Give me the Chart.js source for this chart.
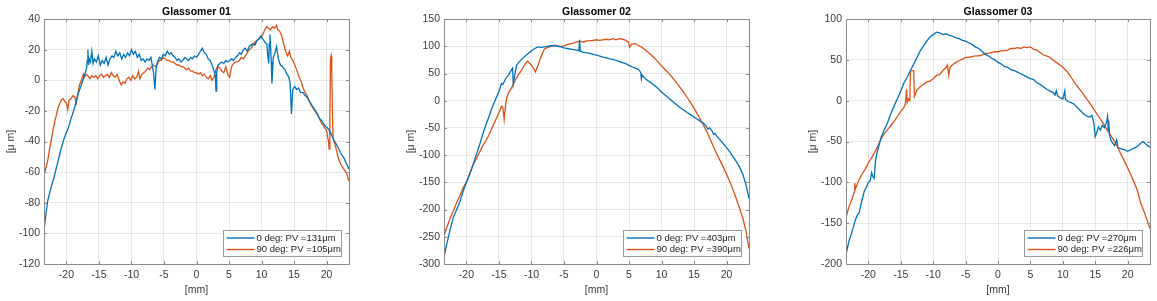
<!DOCTYPE html>
<html>
<head>
<meta charset="utf-8">
<script src="https://cdn.jsdelivr.net/npm/chart.js@4.4.1/dist/chart.umd.min.js"></script>
<style>
body { margin: 0; background: #fff; width: 1157px; height: 301px; overflow: hidden; position: relative; }
.panel { position: absolute; top: 0; height: 301px; }
</style>
</head>
<body>
<div class="panel" style="left:0;width:360px"><canvas id="g1"></canvas></div>
<div class="panel" style="left:400px;width:360px"><canvas id="g2"></canvas></div>
<div class="panel" style="left:802px;width:355px"><canvas id="g3"></canvas></div>
<script>
// tick labels
const xTicks = [-20, -15, -10, -5, 0, 5, 10, 15, 20];
const g1YTicks = [-120, -100, -80, -60, -40, -20, 0, 20, 40];
const g2YTicks = [-300, -250, -200, -150, -100, -50, 0, 50, 100, 150];
const g3YTicks = [-200, -150, -100, -50, 0, 50, 100];

const titles = ['Glassomer 01', 'Glassomer 02', 'Glassomer 03'];
const g1Labels = ['0 deg: PV =131\u03bcm', '90 deg: PV =105\u03bcm'];
const g2Labels = ['0 deg: PV =403\u03bcm', '90 deg: PV =390\u03bcm'];
const g3Labels = ['0 deg: PV =270\u03bcm', '90 deg: PV =226\u03bcm'];

/// Glassomer 01, [mm, um]
const g1Blue = [[-23.5,-100],[-23.2,-89],[-22.9,-79],[-22.6,-74],[-22.3,-69],[-22.0,-65],[-21.6,-58],[-21.3,-53],[-20.9,-46],[-20.5,-40],[-20.1,-35],[-19.7,-31],[-19.3,-25],[-18.9,-20],[-18.5,-14],[-18.2,-9],[-17.8,-4],[-17.4,1],[-17.1,5],[-16.9,8],[-16.8,13],[-16.7,20],[-16.6,10],[-16.5,14],[-16.3,12],[-16.1,19],[-15.9,11],[-15.7,14],[-15.4,12],[-15.1,16],[-14.8,10],[-14.5,13],[-14.2,11],[-13.9,15],[-13.6,10],[-13.3,14],[-13.0,16],[-12.7,15],[-12.4,19],[-12.1,16],[-11.8,18],[-11.5,14],[-11.2,17],[-10.9,15],[-10.6,18],[-10.3,16],[-10.0,20],[-9.7,17],[-9.4,19],[-9.1,15],[-8.8,17],[-8.5,13],[-8.2,14],[-7.9,12],[-7.6,14],[-7.3,13],[-7.0,15],[-6.8,10],[-6.6,5],[-6.4,-6],[-6.2,8],[-6.0,12],[-5.7,15],[-5.4,14],[-5.1,17],[-4.8,16],[-4.5,19],[-4.2,17],[-3.9,18],[-3.6,16],[-3.3,15],[-3.0,13],[-2.7,14],[-2.4,12],[-2.1,13],[-1.8,15],[-1.5,14],[-1.2,13],[-0.9,15],[-0.6,14],[-0.3,16],[0.0,15],[0.3,17],[0.6,19],[0.9,21],[1.2,18],[1.5,17],[1.8,14],[2.1,13],[2.4,10],[2.7,6],[2.9,3],[3.0,-7],[3.1,5],[3.3,10],[3.6,11],[3.9,12],[4.2,11],[4.5,13],[4.8,12],[5.1,13],[5.4,14],[5.7,13],[6.0,15],[6.3,16],[6.6,18],[6.9,17],[7.2,20],[7.5,21],[7.8,19],[8.1,22],[8.4,23],[8.7,24],[9.0,23],[9.3,26],[9.6,27],[9.9,29],[10.2,27],[10.5,25],[10.8,24],[11.0,15],[11.1,11],[11.2,24],[11.3,30],[11.5,12],[11.6,-2],[11.8,15],[12.0,17],[12.3,22],[12.6,14],[12.9,10],[13.2,9],[13.6,7],[13.9,4],[14.2,2],[14.4,-2],[14.6,-22],[14.8,-6],[15.1,-4],[15.4,-6],[15.7,-5],[16.0,-8],[16.4,-8],[16.7,-10],[17.0,-11],[17.4,-14],[17.7,-16],[18.0,-18],[18.3,-20],[18.6,-22],[18.9,-25],[19.2,-26],[19.5,-28],[19.8,-30],[20.1,-31],[20.5,-33],[20.8,-36],[21.1,-39],[21.4,-41],[21.8,-44],[22.1,-47],[22.4,-49],[22.7,-51],[23.0,-54],[23.45,-58]];
const g1Orange = [[-23.5,-62],[-23.2,-58],[-22.9,-53],[-22.6,-45],[-22.3,-38],[-22.0,-31],[-21.8,-27],[-21.5,-22],[-21.3,-18],[-21.0,-15],[-20.8,-13],[-20.5,-12],[-20.2,-14],[-20.0,-15],[-19.8,-19],[-19.6,-13],[-19.3,-12],[-19.0,-10],[-18.7,-11],[-18.5,-15],[-18.3,-10],[-18.0,-3],[-17.7,0],[-17.4,4],[-17.2,2],[-17.0,4],[-16.7,3],[-16.4,1],[-16.1,3],[-15.8,2],[-15.5,3],[-15.2,1],[-14.9,3],[-14.6,4],[-14.3,2],[-14.0,3],[-13.7,4],[-13.4,2],[-13.1,5],[-12.8,3],[-12.5,2],[-12.2,4],[-11.9,0],[-11.6,-3],[-11.3,-1],[-11.0,-2],[-10.7,1],[-10.4,2],[-10.1,0],[-9.8,3],[-9.5,1],[-9.2,2],[-8.9,6],[-8.7,1],[-8.4,4],[-8.1,5],[-7.8,6],[-7.5,8],[-7.2,7],[-6.9,9],[-6.6,10],[-6.3,9],[-6.0,11],[-5.7,13],[-5.4,13],[-5.1,15],[-4.8,14],[-4.5,13],[-4.2,13],[-3.9,12],[-3.6,12],[-3.3,11],[-3.0,10],[-2.7,10],[-2.4,9],[-2.1,9],[-1.8,8],[-1.5,7],[-1.2,8],[-0.9,6],[-0.6,6],[-0.3,5],[0.0,5],[0.3,4],[0.6,5],[0.9,3],[1.2,4],[1.5,2],[1.8,1],[2.1,3],[2.4,0],[2.7,2],[3.0,7],[3.3,9],[3.6,8],[3.9,6],[4.2,5],[4.5,9],[4.8,4],[5.1,2],[5.4,9],[5.7,11],[6.0,12],[6.3,12],[6.6,13],[6.9,15],[7.2,14],[7.5,16],[7.8,18],[8.1,20],[8.4,21],[8.7,23],[9.0,25],[9.3,26],[9.6,27],[9.9,28],[10.2,30],[10.5,33],[10.8,35],[11.1,34],[11.4,33],[11.7,35],[12.0,34],[12.3,36],[12.5,33],[12.8,32],[13.1,29],[13.4,24],[13.7,19],[14.0,16],[14.3,19],[14.5,15],[14.8,13],[15.1,10],[15.4,7],[15.7,3],[16.1,-1],[16.4,-5],[16.7,-8],[17.0,-10],[17.3,-13],[17.6,-16],[17.9,-18],[18.2,-20],[18.5,-22],[18.8,-24],[19.1,-27],[19.4,-29],[19.7,-31],[20.0,-33],[20.3,-40],[20.4,-45],[20.5,-30],[20.6,14],[20.7,16],[20.8,5],[20.9,-20],[21.0,-38],[21.3,-42],[21.6,-47],[21.9,-52],[22.2,-55],[22.5,-57],[22.8,-59],[23.1,-61],[23.45,-66]];

/// Glassomer 02
const g2Blue = [[-23.5,-290],[-23.0,-262],[-22.5,-236],[-22.0,-214],[-21.5,-200],[-21.0,-185],[-20.5,-166],[-20.0,-150],[-19.5,-134],[-19.0,-118],[-18.5,-100],[-18.0,-82],[-17.5,-62],[-17.0,-44],[-16.5,-28],[-16.0,-11],[-15.5,3],[-15.0,17],[-14.6,32],[-14.4,30],[-14.0,40],[-13.5,48],[-13.0,58],[-12.9,60],[-12.8,31],[-12.6,45],[-12.3,65],[-12.0,70],[-11.5,76],[-11.0,82],[-10.5,87],[-10.0,92],[-9.5,96],[-9.0,99],[-8.5,98],[-8.0,99],[-7.5,100],[-7.0,101],[-6.5,101],[-6.0,100],[-5.5,99],[-5.0,97],[-4.5,96],[-4.0,95],[-3.5,94],[-3.0,93],[-2.7,92],[-2.6,112],[-2.5,91],[-2.0,89],[-1.5,88],[-1.0,87],[-0.5,85],[0.0,84],[0.5,82],[1.0,80],[1.5,79],[2.0,77],[2.5,76],[3.0,74],[3.5,72],[4.0,70],[4.5,68],[5.0,65],[5.5,62],[6.0,60],[6.5,57],[6.8,52],[6.9,40],[7.0,47],[7.5,41],[8.0,36],[8.5,32],[9.0,27],[9.5,22],[10.0,16],[10.5,11],[11.0,6],[11.5,1],[12.0,-4],[12.5,-9],[13.0,-14],[13.5,-18],[14.0,-22],[14.5,-26],[15.0,-30],[15.5,-34],[16.0,-38],[16.5,-42],[16.9,-47],[17.1,-52],[17.4,-50],[17.8,-56],[18.0,-62],[18.2,-60],[18.5,-65],[19.0,-72],[19.5,-79],[20.0,-86],[20.5,-94],[21.0,-103],[21.5,-112],[22.0,-122],[22.5,-135],[23.0,-155],[23.45,-180]];
const g2Orange = [[-23.5,-250],[-23.0,-232],[-22.5,-216],[-22.0,-202],[-21.5,-187],[-21.0,-174],[-20.5,-160],[-20.0,-149],[-19.5,-135],[-19.0,-118],[-18.5,-107],[-18.0,-95],[-17.5,-83],[-17.0,-73],[-16.5,-62],[-16.0,-48],[-15.5,-35],[-15.0,-22],[-14.6,-10],[-14.4,-12],[-14.2,-34],[-14.0,-10],[-13.8,6],[-13.5,15],[-13.0,25],[-12.5,38],[-12.0,48],[-11.5,56],[-11.0,67],[-10.6,73],[-10.2,68],[-9.8,62],[-9.4,53],[-9.0,65],[-8.5,82],[-8.0,95],[-7.5,98],[-7.0,100],[-6.5,102],[-6.0,101],[-5.5,100],[-5.0,101],[-4.5,103],[-4.0,105],[-3.5,106],[-3.0,108],[-2.5,109],[-2.0,108],[-1.5,110],[-1.0,110],[-0.5,111],[0.0,112],[0.5,111],[1.0,112],[1.5,113],[2.0,112],[2.5,114],[3.0,112],[3.5,114],[4.0,113],[4.5,111],[4.9,108],[5.1,98],[5.4,104],[6.0,105],[6.5,101],[7.0,98],[7.5,93],[8.0,88],[8.5,83],[9.0,77],[9.5,71],[10.0,64],[10.5,58],[11.0,52],[11.5,45],[12.0,38],[12.5,30],[13.0,22],[13.5,14],[14.0,5],[14.5,-4],[15.0,-14],[15.5,-24],[16.0,-35],[16.5,-46],[17.0,-58],[17.5,-71],[18.0,-85],[18.5,-98],[19.0,-110],[19.5,-122],[20.0,-135],[20.5,-149],[21.0,-164],[21.5,-180],[22.0,-197],[22.5,-216],[22.8,-230],[23.0,-240],[23.45,-272]];

/// Glassomer 03
const g3Blue = [[-23.4,-187],[-23.0,-172],[-22.5,-160],[-22.0,-146],[-21.7,-140],[-21.4,-137],[-21.0,-122],[-20.6,-110],[-20.3,-106],[-20.0,-100],[-19.7,-98],[-19.5,-88],[-19.3,-93],[-19.1,-95],[-18.9,-73],[-18.6,-62],[-18.3,-53],[-18.0,-44],[-17.5,-35],[-17.0,-26],[-16.5,-15],[-16.0,-6],[-15.5,3],[-15.0,12],[-14.5,22],[-14.0,29],[-13.5,37],[-13.0,45],[-12.5,53],[-12.0,61],[-11.5,67],[-11.0,73],[-10.5,78],[-10.0,81],[-9.5,84],[-9.0,83],[-8.5,81],[-8.0,82],[-7.5,80],[-7.0,79],[-6.5,77],[-6.0,76],[-5.5,74],[-5.0,73],[-4.5,71],[-4.0,69],[-3.5,66],[-3.0,64],[-2.5,61],[-2.0,57],[-1.5,55],[-1.0,52],[-0.5,50],[0.0,47],[0.5,45],[1.0,42],[1.5,41],[2.0,38],[2.5,37],[3.0,35],[3.5,33],[4.0,31],[4.5,29],[5.0,27],[5.5,26],[6.0,22],[6.5,20],[7.0,17],[7.5,14],[8.0,12],[8.5,10],[8.8,7],[9.0,12],[9.2,6],[9.5,4],[10.0,2],[10.3,12],[10.4,2],[10.8,-1],[11.2,-2],[11.7,-4],[12.2,-8],[12.7,-12],[13.2,-16],[13.7,-19],[14.2,-20],[14.5,-18],[14.8,-28],[15.0,-44],[15.2,-40],[15.5,-32],[15.8,-36],[16.1,-30],[16.4,-33],[16.7,-28],[16.9,-19],[17.1,-38],[17.4,-48],[17.7,-52],[18.0,-55],[18.3,-48],[18.5,-57],[19.0,-59],[19.5,-60],[20.0,-62],[20.5,-60],[21.0,-58],[21.5,-56],[22.0,-52],[22.4,-50],[22.8,-53],[23.1,-55],[23.45,-57]];
const g3Orange = [[-23.4,-142],[-23.0,-130],[-22.5,-120],[-22.2,-112],[-22.1,-101],[-22.0,-108],[-21.5,-98],[-21.0,-90],[-20.5,-84],[-20.0,-76],[-19.5,-70],[-19.0,-63],[-18.5,-55],[-18.0,-46],[-17.5,-40],[-17.0,-35],[-16.5,-30],[-16.0,-25],[-15.5,-19],[-15.0,-13],[-14.5,-8],[-14.3,-4],[-14.1,14],[-14.0,-2],[-13.8,2],[-13.6,0],[-13.5,37],[-13.0,37],[-12.9,5],[-12.5,13],[-12.0,17],[-11.5,20],[-11.0,23],[-10.5,24],[-10.0,27],[-9.5,31],[-9.0,32],[-8.5,37],[-8.0,41],[-7.8,44],[-7.6,31],[-7.4,41],[-7.0,44],[-6.5,47],[-6.0,49],[-5.5,51],[-5.0,53],[-4.5,53],[-4.0,54],[-3.5,55],[-3.0,55],[-2.5,56],[-2.0,58],[-1.5,58],[-1.0,59],[-0.5,60],[0.0,60],[0.5,61],[1.0,61],[1.5,62],[2.0,64],[2.5,64],[3.0,65],[3.5,64],[4.0,66],[4.5,65],[5.0,66],[5.5,63],[6.0,62],[6.5,59],[7.0,56],[7.5,55],[8.0,53],[8.5,50],[9.0,47],[9.5,44],[10.0,41],[10.5,37],[11.0,32],[11.5,26],[12.0,20],[12.5,15],[13.0,10],[13.5,4],[14.0,-1],[14.5,-7],[15.0,-13],[15.5,-19],[16.0,-25],[16.5,-31],[16.9,-37],[17.1,-24],[17.2,-40],[17.5,-44],[18.0,-50],[18.5,-58],[19.0,-66],[19.5,-74],[20.0,-82],[20.5,-91],[21.0,-100],[21.5,-110],[22.0,-125],[22.5,-135],[23.0,-146],[23.45,-157]];

const BLUE = '#0072BD';
const ORANGE = '#D95319';
const FONT = "'Liberation Sans', Arial, Helvetica, sans-serif";
const AXIS = '#8a8a8a';

Chart.defaults.font.family = FONT;
Chart.defaults.color = '#3a3a3a';

/// box round the axes, inward tick marks and a MATLAB-like legend
const matlabBox = {
    id: 'matlabBox',
    afterDraw(chart) {
        const ctx = chart.ctx;
        const a = chart.chartArea;
        const sx = chart.scales.x, sy = chart.scales.y;
        ctx.save();
        ctx.strokeStyle = AXIS;
        ctx.lineWidth = 1;
        ctx.beginPath();
        sx.ticks.forEach(t => {
            const px = Math.round(sx.getPixelForValue(t.value)) + 0.5;
            ctx.moveTo(px, a.bottom); ctx.lineTo(px, a.bottom - 3);
            ctx.moveTo(px, a.top); ctx.lineTo(px, a.top + 3);
        });
        sy.ticks.forEach(t => {
            const py = Math.round(sy.getPixelForValue(t.value)) + 0.5;
            ctx.moveTo(a.left, py); ctx.lineTo(a.left + 3, py);
            ctx.moveTo(a.right, py); ctx.lineTo(a.right - 3, py);
        });
        ctx.stroke();
        ctx.strokeRect(Math.round(a.left) + 0.5, Math.round(a.top) + 0.5,
                       Math.round(a.right - a.left), Math.round(a.bottom - a.top));

        // legend
        const w = 118, h = 26;
        const lx = Math.round(a.right - 8 - w) + 0.5;
        const ly = Math.round(a.bottom - 8 - h) + 0.5;
        ctx.fillStyle = '#fff';
        ctx.fillRect(lx, ly, w, h);
        ctx.strokeStyle = '#9a9a9a';
        ctx.strokeRect(lx, ly, w, h);
        ctx.font = '9.5px ' + FONT;
        ctx.textBaseline = 'middle';
        chart.data.datasets.forEach((ds, i) => {
            const yy = ly + 7.5 + i * 11.5;
            ctx.strokeStyle = ds.borderColor;
            ctx.lineWidth = 1.4;
            ctx.beginPath();
            ctx.moveTo(lx + 3, yy); ctx.lineTo(lx + 31, yy);
            ctx.stroke();
            ctx.fillStyle = '#222';
            ctx.fillText(ds.label, lx + 33, yy);
        });
        ctx.restore();
    }
};

function toXY(arr) {
    return arr.map(p => ({ x: p[0], y: p[1] }));
}

function makePanel(id, title, blue, orange, labels, yTicks, rightPad) {
    const tickFont = { family: FONT, size: 10.5 };
    return new Chart(id, {
        type: 'line',
        data: {
            datasets: [
                { label: labels[0], data: toXY(blue), borderColor: BLUE, borderWidth: 1.3, pointRadius: 0 },
                { label: labels[1], data: toXY(orange), borderColor: ORANGE, borderWidth: 1.3, pointRadius: 0 }
            ]
        },
        options: {
            responsive: true,
            maintainAspectRatio: false,
            animation: false,
            events: [],
            layout: { padding: { left: 0, right: rightPad, top: 0, bottom: 0 } },
            plugins: {
                legend: { display: false },
                tooltip: { enabled: false },
                title: {
                    display: true, text: title, fullSize: false, color: '#000',
                    font: { family: FONT, size: 10.5, weight: 'bold' },
                    padding: { top: 6, bottom: 0.5 }
                }
            },
            scales: {
                x: {
                    type: 'linear',
                    min: -23.45,
                    max: 23.45,
                    afterBuildTicks: s => { s.ticks = xTicks.map(v => ({ value: v })); },
                    afterFit: s => { s.height = 37; },
                    grid: { color: 'rgba(0,0,0,0.09)', drawTicks: false },
                    border: { display: false },
                    ticks: { padding: 5, font: tickFont, color: '#3a3a3a', maxRotation: 0 },
                    title: { display: true, text: '[mm]', font: tickFont, color: '#3a3a3a', padding: { top: 0, bottom: 4.5 } }
                },
                y: {
                    type: 'linear',
                    min: yTicks[0],
                    max: yTicks[yTicks.length - 1],
                    afterBuildTicks: s => { s.ticks = yTicks.map(v => ({ value: v })); },
                    afterFit: s => { s.width = 44; },
                    grid: { color: 'rgba(0,0,0,0.09)', drawTicks: false },
                    border: { display: false },
                    ticks: { padding: 4, font: tickFont, color: '#3a3a3a' },
                    title: { display: true, text: '[\u03bc m]', font: tickFont, color: '#3a3a3a', padding: { top: 4.5, bottom: 0 } }
                }
            }
        },
        plugins: [matlabBox]
    });
}

makePanel('g1', titles[0], g1Blue, g1Orange, g1Labels, g1YTicks, 11);
makePanel('g2', titles[1], g2Blue, g2Orange, g2Labels, g2YTicks, 11);
makePanel('g3', titles[2], g3Blue, g3Orange, g3Labels, g3YTicks, 7);
</script>
</body>
</html>
